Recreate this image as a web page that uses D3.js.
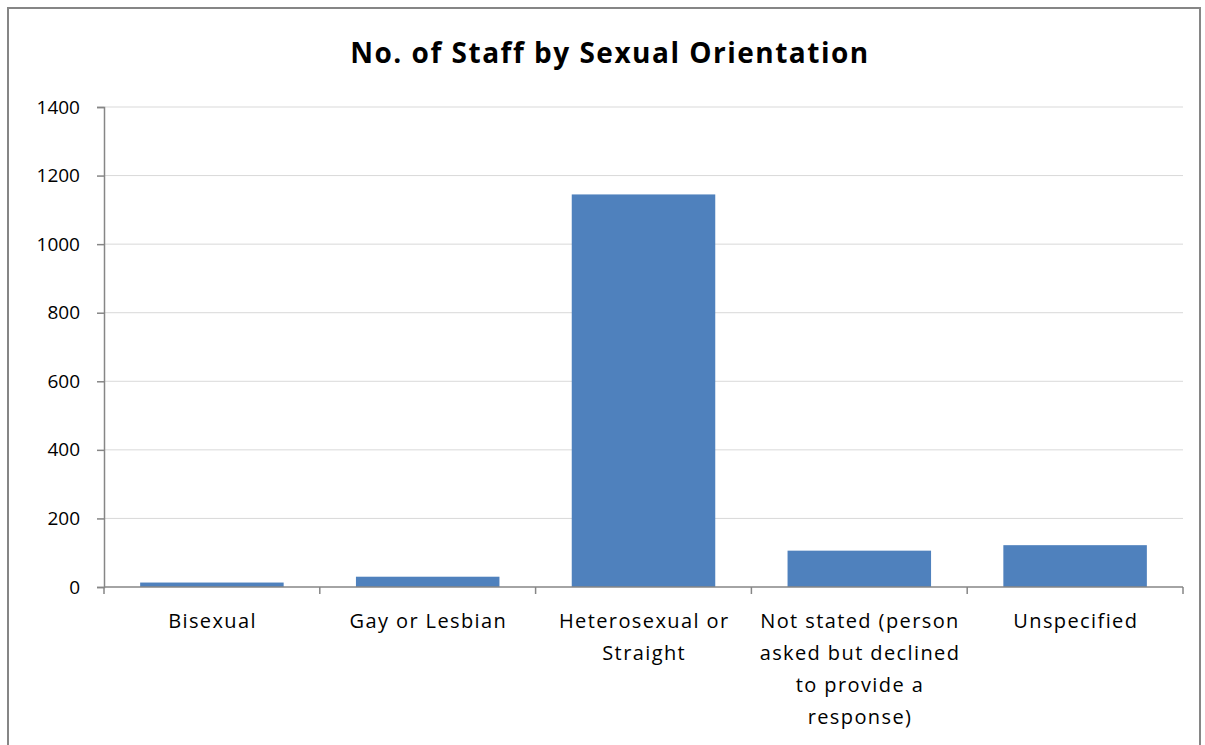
<!DOCTYPE html>
<html><head><meta charset="utf-8">
<script src="https://cdn.jsdelivr.net/npm/d3@7"></script>
<style>body{margin:0;background:#fff;}svg{display:block;}</style>
</head><body>
<script>
const categories = ["Bisexual", "Gay or Lesbian", "Heterosexual or Straight", "Not stated (person asked but declined to provide a response)", "Unspecified"];
const categoryLines = [["Bisexual"], ["Gay or Lesbian"], ["Heterosexual or", "Straight"], ["Not stated (person", "asked but declined", "to provide a", "response)"], ["Unspecified"]];
const values = [13, 30, 1145, 106, 122];
const yTicks = [0, 200, 400, 600, 800, 1000, 1200, 1400];
const title = "No. of Staff by Sexual Orientation";

(function () {
const W = 1205, H = 745;
const font = "'Open Sans', Lato, sans-serif";
const svg = d3.select("body").append("svg").attr("width", W).attr("height", H);

svg.append("rect").attr("x", 8).attr("y", 8).attr("width", 1192).attr("height", 760)
  .attr("fill", "#fff").attr("stroke", "#868686").attr("stroke-width", 2);

const pl = 104, pr = 1183, pt = 107, pb = 587;
const x = d3.scaleBand().domain(categories).range([pl, pr]).paddingInner(0.335).paddingOuter(0.1675);
const y = d3.scaleLinear().domain([0, 1400]).range([pb, pt]);

svg.append("g").selectAll("line").data(yTicks.filter(d => d > 0)).join("line")
  .attr("x1", pl).attr("x2", pr).attr("y1", d => y(d)).attr("y2", d => y(d))
  .attr("stroke", "#d9d9d9").attr("stroke-width", 1);

svg.append("g").selectAll("rect").data(values).join("rect")
  .attr("x", (d, i) => x(categories[i])).attr("width", x.bandwidth())
  .attr("y", d => y(d)).attr("height", d => y(0) - y(d))
  .attr("fill", "#4f81bd");

const yAxis = svg.append("g").attr("transform", `translate(${pl},0)`)
  .call(d3.axisLeft(y).tickValues(yTicks).tickSize(7).tickPadding(17).tickFormat(d3.format("d")));
yAxis.select(".domain").attr("stroke", "#868686").attr("stroke-width", 1.5);
yAxis.selectAll(".tick line").attr("stroke", "#868686").attr("stroke-width", 1.5);
yAxis.selectAll(".tick text").attr("font-family", font).attr("font-size", 19).attr("fill", "#000");

const bounds = d3.range(categories.length + 1).map(i => pl + i * (pr - pl) / categories.length);
svg.append("line").attr("x1", pl).attr("x2", pr).attr("y1", pb).attr("y2", pb)
  .attr("stroke", "#868686").attr("stroke-width", 1.5);
svg.append("g").selectAll("line").data(bounds).join("line")
  .attr("x1", d => d).attr("x2", d => d).attr("y1", pb).attr("y2", pb + 7)
  .attr("stroke", "#868686").attr("stroke-width", 1.5);

const labels = svg.append("g");
categories.forEach((c, i) => {
  const cx = x(c) + x.bandwidth() / 2 + 0.7;
  const t = labels.append("text").attr("x", cx).attr("y", 628)
    .attr("text-anchor", "middle").attr("font-family", font).attr("font-size", 20)
    .attr("letter-spacing", 1.4).attr("fill", "#000");
  categoryLines[i].forEach((ln, j) => {
    t.append("tspan").attr("x", cx).attr("dy", j === 0 ? 0 : 32).text(ln);
  });
});

svg.append("text").attr("x", 610).attr("y", 63).attr("text-anchor", "middle")
  .attr("font-family", font).attr("font-weight", "bold").attr("font-size", 28)
  .attr("letter-spacing", 1.5).attr("fill", "#000")
  .text(title);
})();
</script>
</body></html>
